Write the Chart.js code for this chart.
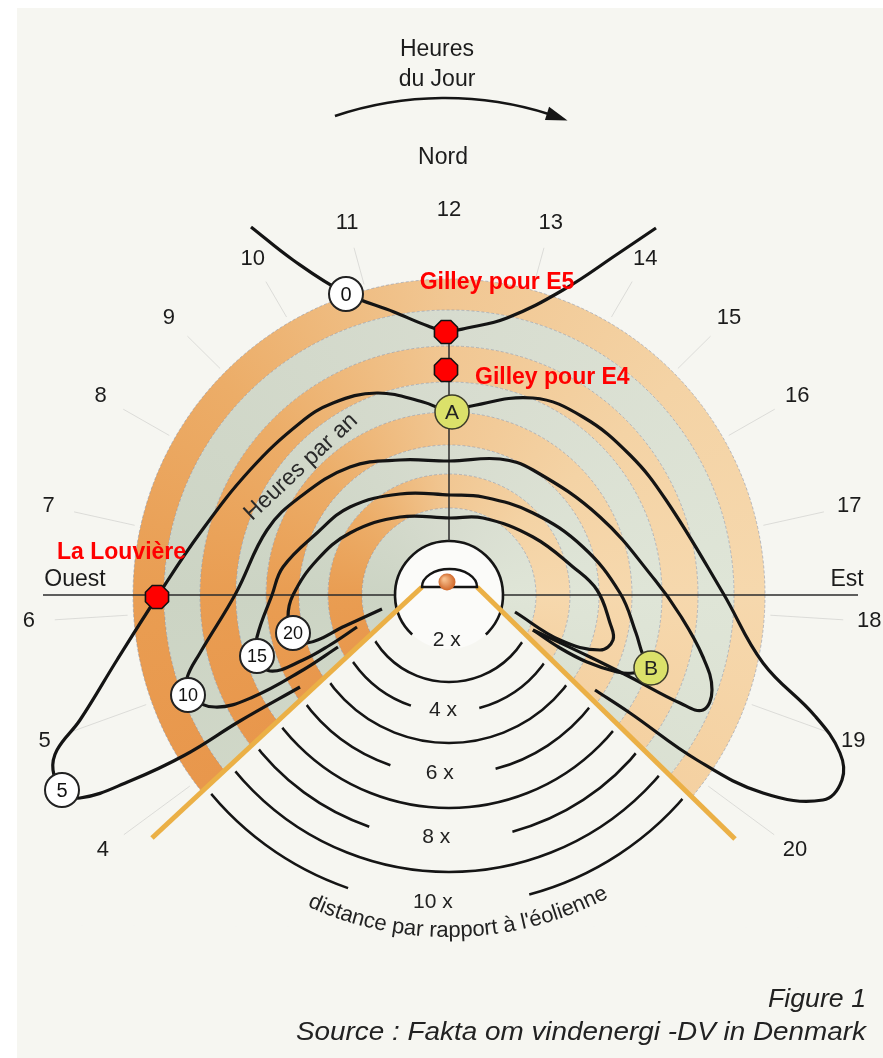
<!DOCTYPE html>
<html>
<head>
<meta charset="utf-8">
<title>Ombre portée - heures par an</title>
<script src="https://cdn.jsdelivr.net/npm/chart.js@4.4.1/dist/chart.umd.min.js"></script>
<style>
  html, body { margin: 0; padding: 0; background: #fff; }
  canvas { display: block; }
</style>
</head>
<body>
<canvas id="flicker" width="883" height="1058"></canvas>
<script>
// every value is in px-units measured from the turbine (x = east, y = north)
const hours = [4, 5, 6, 7, 8, 9, 10, 11, 12, 13, 14, 15, 16, 17, 18, 19, 20];
const ringEdges = [316, 285, 249, 213, 183, 150, 121, 87, 54];
const distanceRadii = [54, 87, 117, 148, 180, 213, 245, 277, 310];
const distanceLabels = ['2 x', '', '4 x', '', '6 x', '', '8 x', '', '10 x'];

// iso-lines "heures par an"
const curveLabels = ['0', '5', '10', '15', '20'];
const curve0 = [[-198, 368], [-156, 335], [-104, 302], [-55, 283], [-21, 269], [-3, 264], [18, 267], [58, 277], [114, 305], [170, 342], [207, 367]];
const curve5 = [[-149, -92], [-209, -126], [-264, -160], [-319, -186], [-369, -203], [-387, -195], [-396, -175], [-392, -155], [-369, -125], [-332, -65], [-292, -2], [-249, 62], [-199, 125], [-149, 172], [-116, 192], [-72, 202], [-26, 193], [3, 183], [17, 188], [84, 197], [134, 178], [181, 140], [217, 95], [274, 2], [314, -68], [366, -121], [391, -158], [393, -185], [374, -205], [314, -198], [248, -165], [181, -118], [146, -95]];
const curve10 = [[-111, -52], [-146, -75], [-196, -102], [-234, -112], [-261, -100], [-262, -83], [-249, -58], [-213, 2], [-182, 65], [-149, 98], [-99, 128], [-49, 135], [1, 134], [51, 136], [84, 125], [151, 78], [206, 15], [231, -20], [254, -62], [263, -95], [254, -115], [231, -108], [181, -82], [141, -62], [84, -35]];
const curve15 = [[-92, -32], [-119, -50], [-146, -65], [-179, -76], [-192, -61], [-192, -42], [-177, 0], [-166, 28], [-132, 62], [-99, 88], [-49, 101], [1, 100], [34, 98], [84, 82], [134, 48], [171, 2], [187, -38], [194, -60], [202, -73], [184, -78], [168, -77], [138, -67], [111, -53], [84, -35]];
const curve20 = [[-67, -14], [-104, -31], [-142, -48], [-156, -38], [-161, -22], [-156, 0], [-132, 35], [-99, 62], [-49, 78], [1, 77], [34, 77], [84, 58], [124, 28], [148, 5], [161, -28], [164, -45], [151, -55], [111, -45], [66, -17]];

// labelled circles on the iso-lines
const circleX = [-103, -387, -261, -192, -156];
const circleY = [301, -195, -100, -61, -38];
const pointLabels = ['A', 'B'];
const pointX = [3, 202];
const pointY = [183, -73];

// sites
const siteNames = ['Gilley pour E5', 'Gilley pour E4', 'La Louvière'];
const siteX = [-3, -3, -292];
const siteY = [263, 225, -2];

// geometry of the drawing (not data)
const wedgeLeft = [[-27, 8], [-297, -243]];
const wedgeRight = [[28, 8], [286, -244]];
const FONT = '"Liberation Sans", Arial, Helvetica, sans-serif';

const pts = (xs, ys) => xs.map((x, i) => ({ x: x, y: ys[i] }));
const pairs = arr => arr.map(p => ({ x: p[0], y: p[1] }));

function toPx(chart, x, y) {
  return { x: chart.scales.x.getPixelForValue(x), y: chart.scales.y.getPixelForValue(y) };
}
function lenPx(chart, r) {
  return Math.abs(chart.scales.x.getPixelForValue(r) - chart.scales.x.getPixelForValue(0));
}
function label(ctx, str, p, font, color, align, baseline) {
  ctx.font = font;
  ctx.fillStyle = color;
  ctx.textAlign = align || 'center';
  ctx.textBaseline = baseline || 'middle';
  ctx.fillText(str, p.x, p.y);
}
// right-aligned text stretched to a given width
function stretched(ctx, str, p, font, color, width) {
  ctx.save();
  ctx.font = font;
  const sx = width / ctx.measureText(str).width;
  ctx.translate(p.x, p.y);
  ctx.scale(sx, 1);
  label(ctx, str, { x: 0, y: 0 }, font, color, 'right');
  ctx.restore();
}
function arcText(ctx, str, c, R, mid, font, color) {
  ctx.font = font;
  ctx.fillStyle = color;
  ctx.textAlign = 'center';
  ctx.textBaseline = 'alphabetic';
  let a = mid + ctx.measureText(str).width / (2 * R);
  for (const ch of str) {
    const w = ctx.measureText(ch).width;
    const am = a - w / (2 * R);
    ctx.save();
    ctx.translate(c.x + R * Math.cos(am), c.y + R * Math.sin(am));
    ctx.rotate(am - Math.PI / 2);
    ctx.fillText(ch, 0, 0);
    ctx.restore();
    a -= w / R;
  }
}
function unit(a, b) {
  const l = Math.hypot(b.x - a.x, b.y - a.y);
  return { x: (b.x - a.x) / l, y: (b.y - a.y) / l, l: l };
}

const octagon = document.createElement('canvas');
octagon.width = octagon.height = 30;
(function () {
  const g = octagon.getContext('2d');
  g.beginPath();
  for (let k = 0; k < 8; k++) {
    const a = Math.PI / 8 + k * Math.PI / 4;
    const x = 15 + 12.5 * Math.cos(a), y = 15 + 12.5 * Math.sin(a);
    if (k) g.lineTo(x, y); else g.moveTo(x, y);
  }
  g.closePath();
  g.fillStyle = '#ff0000';
  g.fill();
  g.lineWidth = 1.6;
  g.strokeStyle = '#111';
  g.stroke();
})();

const paper = {
  id: 'paper',
  beforeDraw(chart) {
    const ctx = chart.ctx;
    ctx.save();
    ctx.fillStyle = '#ffffff';
    ctx.fillRect(0, 0, chart.width, chart.height);
    ctx.fillStyle = '#f6f6f1';
    ctx.fillRect(17, 8, chart.width - 17, chart.height - 8);
    ctx.restore();
  }
};

const backdrop = {
  id: 'backdrop',
  beforeDatasetsDraw(chart) {
    const ctx = chart.ctx;
    const c = toPx(chart, 0, 0);
    ctx.save();

    // coloured rings
    const orange = ctx.createConicGradient(0, c.x, c.y);
    [[0, '#f6d8ad'], [0.12, '#f4d0a0'], [0.25, '#eeb378'], [0.36, '#e8954a'], [0.5, '#e99d52'],
     [0.62, '#ecad68'], [0.75, '#f1c793'], [0.88, '#f4d3a5'], [1, '#f6d8ad']].forEach(s => orange.addColorStop(s[0], s[1]));
    const grey = ctx.createConicGradient(0, c.x, c.y);
    [[0, '#dfe5d7'], [0.25, '#d5dbcc'], [0.5, '#ccd4c4'], [0.75, '#d7dccf'], [1, '#dfe5d7']].forEach(s => grey.addColorStop(s[0], s[1]));
    for (let i = 0; i < ringEdges.length - 1; i++) {
      ctx.beginPath();
      ctx.arc(c.x, c.y, lenPx(chart, ringEdges[i]), 0, Math.PI * 2);
      ctx.arc(c.x, c.y, lenPx(chart, ringEdges[i + 1]), 0, Math.PI * 2, true);
      ctx.fillStyle = i % 2 ? grey : orange;
      ctx.fill();
    }
    ctx.setLineDash([3, 2]);
    ctx.lineWidth = 1;
    ctx.strokeStyle = 'rgba(135,145,170,0.55)';
    ringEdges.slice(0, -1).forEach(r => {
      ctx.beginPath();
      ctx.arc(c.x, c.y, lenPx(chart, r), 0, Math.PI * 2);
      ctx.stroke();
    });
    ctx.setLineDash([]);
    ctx.beginPath();
    ctx.arc(c.x, c.y, lenPx(chart, ringEdges[ringEdges.length - 1]), 0, Math.PI * 2);
    ctx.fillStyle = '#fbfbf9';
    ctx.fill();

    // faint hour rays
    const hourPos = h => {
      const d = h - 12, ad = Math.abs(d);
      const a = Math.sign(d) * (15 * ad + (ad >= 5 ? 0.1 * d * d : 0.3)) * Math.PI / 180;
      return { s: Math.sin(a), co: Math.cos(a), r: Math.min(385 + d * d, 430) };
    };
    ctx.strokeStyle = 'rgba(160,160,160,0.3)';
    ctx.lineWidth = 1;
    hours.forEach(h => {
      if (h === 12) return;
      const q = hourPos(h);
      const p1 = toPx(chart, 322 * q.s, 322 * q.co), p2 = toPx(chart, (q.r - 26) * q.s, (q.r - 26) * q.co);
      ctx.beginPath(); ctx.moveTo(p1.x, p1.y); ctx.lineTo(p2.x, p2.y); ctx.stroke();
    });

    // west-east line
    const w = toPx(chart, -406, 0), e = toPx(chart, 409, 0);
    ctx.strokeStyle = '#2b2b2b';
    ctx.lineWidth = 1.5;
    ctx.beginPath(); ctx.moveTo(w.x, w.y); ctx.lineTo(e.x, e.y); ctx.stroke();

    // shadow-free wedge south of the turbine
    const aL = toPx(chart, wedgeLeft[0][0], wedgeLeft[0][1]), bL = toPx(chart, wedgeLeft[1][0], wedgeLeft[1][1]);
    const aR = toPx(chart, wedgeRight[0][0], wedgeRight[0][1]), bR = toPx(chart, wedgeRight[1][0], wedgeRight[1][1]);
    const uL = unit(aL, bL), uR = unit(aR, bR);
    const ext = 1.35;
    ctx.beginPath();
    ctx.moveTo(aL.x, aL.y);
    ctx.lineTo(aL.x + uL.x * uL.l * ext, aL.y + uL.y * uL.l * ext);
    ctx.lineTo(aR.x + uR.x * uR.l * ext, aR.y + uR.y * uR.l * ext);
    ctx.lineTo(aR.x, aR.y);
    ctx.closePath();
    ctx.fillStyle = '#f6f6f1';
    ctx.fill();
    ctx.beginPath();
    ctx.arc(c.x, c.y, lenPx(chart, ringEdges[ringEdges.length - 1]), 0, Math.PI * 2);
    ctx.fillStyle = '#fbfbf9';
    ctx.fill();

    // distance arcs inside the wedge
    const m = 8;
    const nL = { x: -uL.y, y: uL.x }, nR = { x: uR.y, y: -uR.x };
    if (nL.x < 0) { nL.x = -nL.x; nL.y = -nL.y; }
    if (nR.x > 0) { nR.x = -nR.x; nR.y = -nR.y; }
    ctx.save();
    ctx.beginPath();
    ctx.moveTo(aL.x + nL.x * m, aL.y + nL.y * m);
    ctx.lineTo(aL.x + nL.x * m + uL.x * uL.l * ext, aL.y + nL.y * m + uL.y * uL.l * ext);
    ctx.lineTo(aR.x + nR.x * m + uR.x * uR.l * ext, aR.y + nR.y * m + uR.y * uR.l * ext);
    ctx.lineTo(aR.x + nR.x * m, aR.y + nR.y * m);
    ctx.closePath();
    ctx.clip();
    ctx.strokeStyle = '#151515';
    ctx.lineWidth = 2.6;
    const deg = Math.PI / 180, mid = 92 * deg, gap = 17 * deg;
    distanceRadii.forEach((r, i) => {
      if (i === 0) return;
      const R = lenPx(chart, r);
      ctx.beginPath();
      if (distanceLabels[i]) {
        ctx.arc(c.x, c.y, R, 0, mid - gap);
        ctx.moveTo(c.x + R * Math.cos(mid + gap), c.y + R * Math.sin(mid + gap));
        ctx.arc(c.x, c.y, R, mid + gap, Math.PI);
      } else {
        ctx.arc(c.x, c.y, R, 0, Math.PI);
      }
      ctx.stroke();
    });
    ctx.restore();
    // inner circle, open for the "2 x" label
    ctx.strokeStyle = '#151515';
    ctx.lineWidth = 2.6;
    ctx.beginPath();
    ctx.arc(c.x, c.y, lenPx(chart, distanceRadii[0]), 133 * deg, 47 * deg);
    ctx.stroke();
    distanceRadii.forEach((r, i) => {
      if (!distanceLabels[i]) return;
      const R = lenPx(chart, r) - (i === 0 ? 9 : 2);
      label(ctx, distanceLabels[i], { x: c.x + R * Math.cos(93 * deg), y: c.y + R * Math.sin(93 * deg) }, '21px ' + FONT, '#222');
    });

    // wedge borders
    ctx.strokeStyle = '#ebb046';
    ctx.lineWidth = 5;
    ctx.beginPath(); ctx.moveTo(aL.x, aL.y); ctx.lineTo(bL.x, bL.y); ctx.stroke();
    ctx.beginPath(); ctx.moveTo(aR.x, aR.y); ctx.lineTo(bR.x, bR.y); ctx.stroke();

    // turbine symbol
    const t = toPx(chart, 0.5, 8);
    ctx.beginPath();
    ctx.ellipse(t.x, t.y, 27.5, 18, 0, Math.PI, Math.PI * 2);
    ctx.closePath();
    ctx.fillStyle = '#ffffff';
    ctx.fill();
    ctx.lineWidth = 2.5;
    ctx.strokeStyle = '#151515';
    ctx.stroke();
    const dot = toPx(chart, -2, 13);
    const rg = ctx.createRadialGradient(dot.x - 3, dot.y - 3, 1, dot.x, dot.y, 9);
    rg.addColorStop(0, '#f7c08e');
    rg.addColorStop(1, '#cf6426');
    ctx.beginPath();
    ctx.arc(dot.x, dot.y, 8.5, 0, Math.PI * 2);
    ctx.fillStyle = rg;
    ctx.fill();

    // north axis from the sites to the inner circle
    const v1 = toPx(chart, 0, siteY[0]), v2 = toPx(chart, 0, ringEdges[ringEdges.length - 1]);
    ctx.strokeStyle = '#2b2b2b';
    ctx.lineWidth = 1.5;
    ctx.beginPath(); ctx.moveTo(v1.x, v1.y); ctx.lineTo(v2.x, v2.y); ctx.stroke();

    // hour numbers
    hours.forEach(h => {
      const q = hourPos(h);
      label(ctx, String(h), toPx(chart, q.r * q.s, q.r * q.co), '22px ' + FONT, '#1c1c1c');
    });
    label(ctx, 'Ouest', toPx(chart, -374, 15), '23px ' + FONT, '#1c1c1c');
    label(ctx, 'Est', toPx(chart, 398, 15), '23px ' + FONT, '#1c1c1c');
    label(ctx, 'Nord', toPx(chart, -6, 437), '23px ' + FONT, '#1c1c1c');
    label(ctx, 'Heures', toPx(chart, -12, 545), '23px ' + FONT, '#1c1c1c');
    label(ctx, 'du Jour', toPx(chart, -12, 515), '23px ' + FONT, '#1c1c1c');

    // day arrow
    const ac = toPx(chart, -4, 152), AR = lenPx(chart, 345);
    ctx.strokeStyle = '#151515';
    ctx.lineWidth = 2.6;
    ctx.beginPath();
    ctx.arc(ac.x, ac.y, AR, -108.6 * deg, -72.4 * deg);
    ctx.stroke();
    const tip = -69.2 * deg, base = -72.8 * deg;
    ctx.beginPath();
    ctx.moveTo(ac.x + AR * Math.cos(tip), ac.y + AR * Math.sin(tip));
    ctx.lineTo(ac.x + (AR + 7) * Math.cos(base), ac.y + (AR + 7) * Math.sin(base));
    ctx.lineTo(ac.x + (AR - 7) * Math.cos(base), ac.y + (AR - 7) * Math.sin(base));
    ctx.closePath();
    ctx.fillStyle = '#151515';
    ctx.fill();

    // captions
    const hp = toPx(chart, -148, 128);
    ctx.save();
    ctx.translate(hp.x, hp.y);
    ctx.rotate(-43 * deg);
    label(ctx, 'Heures par an', { x: 0, y: 0 }, '23px ' + FONT, '#2a2a2a');
    ctx.restore();
    arcText(ctx, 'distance par rapport à l\'éolienne', c, lenPx(chart, 342), 88.3 * deg, '22px ' + FONT, '#222');
    stretched(ctx, 'Figure 1', toPx(chart, 417, -405), 'italic 26px ' + FONT, '#222', 98);
    stretched(ctx, 'Source : Fakta om vindenergi -DV in Denmark', toPx(chart, 417, -438), 'italic 26px ' + FONT, '#222', 570);
    ctx.restore();
  },
  afterDatasetsDraw(chart) {
    const ctx = chart.ctx;
    ctx.save();
    chart.getDatasetMeta(2).data.forEach((el, i) => {
      label(ctx, curveLabels[i], { x: el.x, y: el.y + 1 }, (curveLabels[i].length > 1 ? '18px ' : '20px ') + FONT, '#111');
    });
    chart.getDatasetMeta(1).data.forEach((el, i) => {
      label(ctx, pointLabels[i], { x: el.x, y: el.y + 1 }, '21px ' + FONT, '#222');
    });
    const red = 'bold 23px ' + FONT;
    label(ctx, siteNames[0], toPx(chart, 48, 312), red, '#ff0000');
    label(ctx, siteNames[1], toPx(chart, 26, 217), red, '#ff0000', 'left');
    label(ctx, siteNames[2], toPx(chart, -392, 42), red, '#ff0000', 'left');
    ctx.restore();
  }
};

const curveSets = [curve0, curve5, curve10, curve15, curve20].map((c, i) => ({
  label: curveLabels[i] + ' heures par an',
  data: pairs(c),
  showLine: true,
  borderColor: '#141414',
  borderWidth: 3.2,
  tension: 0.4,
  pointRadius: 0,
  fill: false,
  order: 5
}));

new Chart(document.getElementById('flicker'), {
  type: 'scatter',
  data: {
    datasets: [
      { label: 'Sites', data: pts(siteX, siteY), pointStyle: octagon, order: 0 },
      { label: 'A / B', data: pts(pointX, pointY), pointRadius: 17, backgroundColor: '#dbe16a', borderColor: '#3d3d2a', borderWidth: 1.5, order: 1 },
      { label: 'Repères', data: pts(circleX, circleY), pointRadius: 17, backgroundColor: '#ffffff', borderColor: '#222', borderWidth: 2, order: 1 }
    ].concat(curveSets)
  },
  plugins: [paper, backdrop],
  options: {
    responsive: false,
    animation: false,
    devicePixelRatio: 1,
    events: [],
    layout: { padding: 0, autoPadding: false },
    plugins: {
      legend: { display: false },
      tooltip: { enabled: false }
    },
    scales: {
      x: { type: 'linear', min: -449, max: 434, display: false },
      y: { type: 'linear', min: -463, max: 595, display: false }
    }
  }
});
</script>
</body>
</html>
